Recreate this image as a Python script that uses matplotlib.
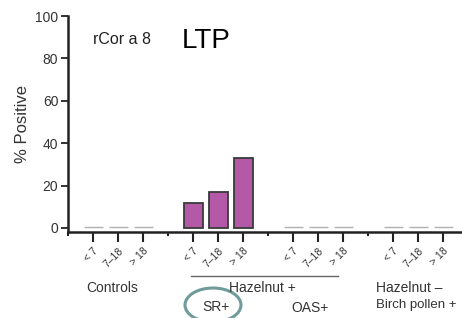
import numpy as np
import matplotlib.pyplot as plt
from matplotlib.patches import Ellipse

plt.rcParams['font.family'] = ['Liberation Sans', 'DejaVu Sans']

groups = ['Controls', 'Hazelnut + SR+', 'Hazelnut + OAS+', 'Hazelnut - Birch pollen +']
ages = ['< 7', '7\u201318', '> 18']
values = [
    [0, 0, 0],
    [12, 17, 33],
    [0, 0, 0],
    [0, 0, 0],
]

W, H = 462, 318
fig = plt.figure(figsize=(W / 100, H / 100), dpi=100)
ax = fig.add_axes([68 / W, (H - 232) / H, (W - 68) / W, (232 - 16) / H])

def fx(px):
    return px / W

def fy(py):
    return 1 - py / H

pos = []
labels = []
for g, vals in enumerate(values):
    for i, v in enumerate(vals):
        x = 1 + 4 * g + i
        pos.append(x)
        labels.append(ages[i])
        if v > 0:
            ax.bar(x, v, width=0.76, color='#b459a8', edgecolor='#3a3a3a', linewidth=1.3)
        else:
            ax.hlines(0.5, x - 0.38, x + 0.38, color='#b0b0b0', linewidth=1)

ax.set_xlim(0, 15.76)
ax.set_ylim(-1.9, 100)
ax.set_yticks([0, 20, 40, 60, 80, 100])
ax.set_xticks(pos)
ax.set_xticklabels(labels, rotation=45, ha='right', va='top', rotation_mode='anchor', fontsize=7.5)
ax.set_xticks([0, 4, 8, 12], minor=True)
ax.tick_params(axis='x', which='major', length=7, width=1.5, pad=3, colors='#222222', labelcolor='#333333')
ax.tick_params(axis='x', which='minor', length=3, width=1.5, colors='#222222')
ax.tick_params(axis='y', length=5, width=1.3, labelsize=10, colors='#222222', labelcolor='#333333', pad=2)
for s in ['top', 'right']:
    ax.spines[s].set_visible(False)
for s in ['left', 'bottom']:
    ax.spines[s].set_linewidth(1.8)
    ax.spines[s].set_color('#222222')

ax.set_ylabel('% Positive', fontsize=12, color='#333333', labelpad=4)

ax.text(fx(93), fy(40), 'rCor a 8', transform=fig.transFigure, fontsize=11.5, va='center', ha='left', color='#222222')
ax.text(fx(182), fy(41), 'LTP', transform=fig.transFigure, fontsize=20, va='center', ha='left', color='black')

fig.add_artist(plt.Line2D([fx(191), fx(338)], [fy(276), fy(276)], color='#666666', linewidth=1))
fig.text(fx(112), fy(288), 'Controls', fontsize=10, ha='center', va='center', color='#333333')
fig.text(fx(262), fy(288), 'Hazelnut +', fontsize=10, ha='center', va='center', color='#333333')
fig.text(fx(376), fy(288), 'Hazelnut \u2013', fontsize=10, ha='left', va='center', color='#333333')
fig.text(fx(376), fy(305), 'Birch pollen +', fontsize=9.5, ha='left', va='center', color='#333333')
fig.text(fx(216), fy(307), 'SR+', fontsize=10, ha='center', va='center', color='#333333')
fig.text(fx(310), fy(308), 'OAS+', fontsize=10, ha='center', va='center', color='#333333')
fig.add_artist(Ellipse((fx(213), fy(305)), 56 / W, 34 / H, transform=fig.transFigure,
                       fill=False, edgecolor='#6f9c9a', linewidth=2.2))

fig.savefig('out.png', dpi=100)
